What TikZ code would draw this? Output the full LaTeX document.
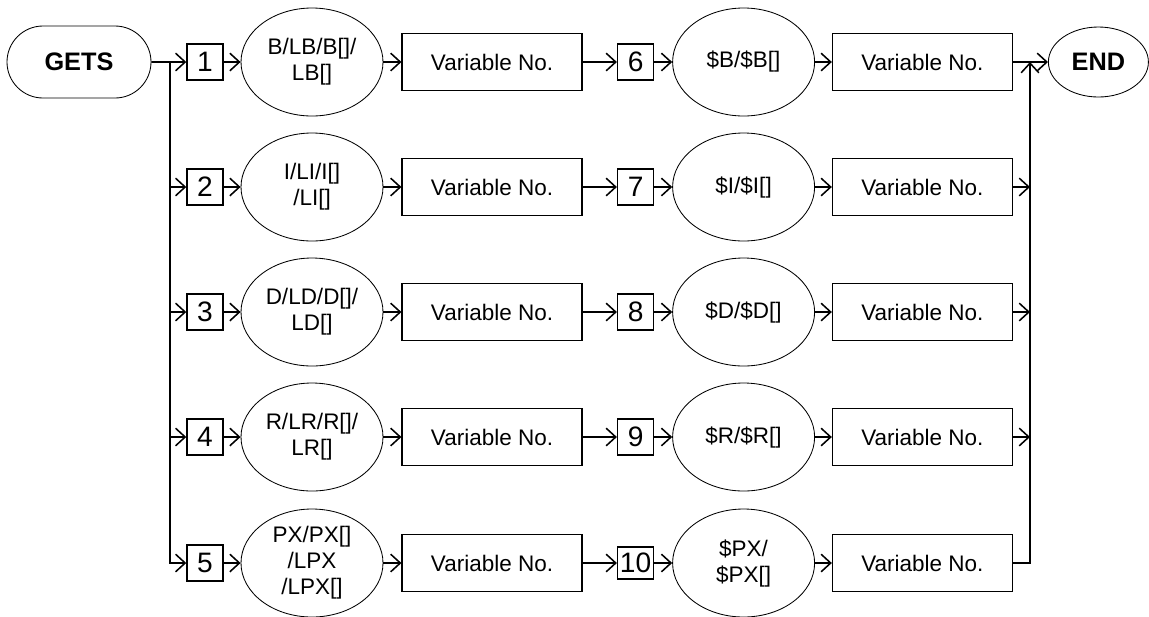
\documentclass[tikz,border=0pt]{standalone}
\usepackage{fontspec}
\setmainfont{Liberation Sans}
\usepackage{tikz}
\usetikzlibrary{shapes.geometric, shapes.misc, arrows.meta, positioning, calc}
\tikzset{every node/.append style={align=center}}
\tikzset{
  base/.style={font=\fontsize{16}{18.5}\selectfont, inner sep=0pt},
  term/.style={base, rounded rectangle, draw, line width=0.6pt,
    minimum width=36mm, minimum height=18mm, font=\fontsize{18}{20}\selectfont\bfseries},
  fin/.style={base, ellipse, draw, line width=0.6pt,
    minimum width=25mm, minimum height=17.5mm, font=\fontsize{18}{20}\selectfont\bfseries},
  num/.style={base, rectangle, draw, line width=1pt, minimum width=9mm, minimum height=9mm,
    font=\fontsize{20}{22}\selectfont},
  typ/.style={base, ellipse, draw, line width=0.6pt, minimum width=35.5mm, minimum height=27mm},
  var/.style={base, rectangle, draw, line width=0.8pt, minimum width=45mm, minimum height=14.25mm},
  arrow/.style={-{Straight Barb[length=2.4mm, width=4.4mm]}, line width=1.1pt}
}
\begin{document}
\begin{tikzpicture}
  \useasboundingbox (0,0) rectangle (287.25mm,-154mm);
  % start and end
  \node[term] (gets) at (19.75mm,-15.5mm) {GETS};
  \node[fin] (end) at (274.6mm,-15.5mm) {END};
  \coordinate (ltop) at (42.5mm,-15.5mm);
  \coordinate (rtop) at (257.5mm,-15.5mm);
  % row 1
  \node[num] (n1) at (51.25mm,-15.5mm) {1};
  \node[typ] (t1) at (78mm,-15.5mm) {B/LB/B[]/\\LB[]};
  \node[var] (v1) at (123mm,-15.5mm) {Variable No.};
  \node[num] (m1) at (158.9mm,-15.5mm) {6};
  \node[typ] (s1) at (185.9mm,-15.5mm) {\$B/\$B[]};
  \node[var] (w1) at (230.6mm,-15.5mm) {Variable No.};
  % row 2
  \node[num] (n2) at (51.25mm,-46.75mm) {2};
  \node[typ] (t2) at (78mm,-46.75mm) {I/LI/I[]\\/LI[]};
  \node[var] (v2) at (123mm,-46.75mm) {Variable No.};
  \node[num] (m2) at (158.9mm,-46.75mm) {7};
  \node[typ] (s2) at (185.9mm,-46.75mm) {\$I/\$I[]};
  \node[var] (w2) at (230.6mm,-46.75mm) {Variable No.};
  % row 3
  \node[num] (n3) at (51.25mm,-78mm) {3};
  \node[typ] (t3) at (78mm,-78mm) {D/LD/D[]/\\LD[]};
  \node[var] (v3) at (123mm,-78mm) {Variable No.};
  \node[num] (m3) at (158.9mm,-78mm) {8};
  \node[typ] (s3) at (185.9mm,-78mm) {\$D/\$D[]};
  \node[var] (w3) at (230.6mm,-78mm) {Variable No.};
  % row 4
  \node[num] (n4) at (51.25mm,-109.25mm) {4};
  \node[typ] (t4) at (78mm,-109.25mm) {R/LR/R[]/\\LR[]};
  \node[var] (v4) at (123mm,-109.25mm) {Variable No.};
  \node[num] (m4) at (158.9mm,-109.25mm) {9};
  \node[typ] (s4) at (185.9mm,-109.25mm) {\$R/\$R[]};
  \node[var] (w4) at (230.6mm,-109.25mm) {Variable No.};
  % row 5
  \node[num] (n5) at (51.25mm,-140.75mm) {5};
  \node[typ] (t5) at (78mm,-140.75mm) {PX/PX[]\\/LPX\\/LPX[]};
  \node[var] (v5) at (123mm,-140.75mm) {Variable No.};
  \node[num, minimum height=8mm] (m5) at (158.9mm,-140.75mm) {10};
  \node[typ] (s5) at (185.9mm,-140.75mm) {\$PX/\\\$PX[]};
  \node[var] (w5) at (230.6mm,-140.75mm) {Variable No.};
  % connectors
  \draw[arrow] (gets) -- (n1);
  \draw[arrow] (ltop) |- (n2);
  \draw[arrow] (ltop) |- (n3);
  \draw[arrow] (ltop) |- (n4);
  \draw[arrow] (ltop) |- (n5);
  \draw[arrow] (n1) -- (t1); \draw[arrow] (t1) -- (v1); \draw[arrow] (v1) -- (m1);
  \draw[arrow] (m1) -- (s1); \draw[arrow] (s1) -- (w1);
  \draw[arrow] (n2) -- (t2); \draw[arrow] (t2) -- (v2); \draw[arrow] (v2) -- (m2);
  \draw[arrow] (m2) -- (s2); \draw[arrow] (s2) -- (w2);
  \draw[arrow] (n3) -- (t3); \draw[arrow] (t3) -- (v3); \draw[arrow] (v3) -- (m3);
  \draw[arrow] (m3) -- (s3); \draw[arrow] (s3) -- (w3);
  \draw[arrow] (n4) -- (t4); \draw[arrow] (t4) -- (v4); \draw[arrow] (v4) -- (m4);
  \draw[arrow] (m4) -- (s4); \draw[arrow] (s4) -- (w4);
  \draw[arrow] (n5) -- (t5); \draw[arrow] (t5) -- (v5); \draw[arrow] (v5) -- (m5);
  \draw[arrow] (m5) -- (s5); \draw[arrow] (s5) -- (w5);
  \draw[arrow] (w1) -- (end);
  \draw[arrow] (w2) -- (w2 -| rtop);
  \draw[arrow] (w3) -- (w3 -| rtop);
  \draw[arrow] (w4) -- (w4 -| rtop);
  \draw[arrow] (w5) -| (rtop);
\end{tikzpicture}
\end{document}
